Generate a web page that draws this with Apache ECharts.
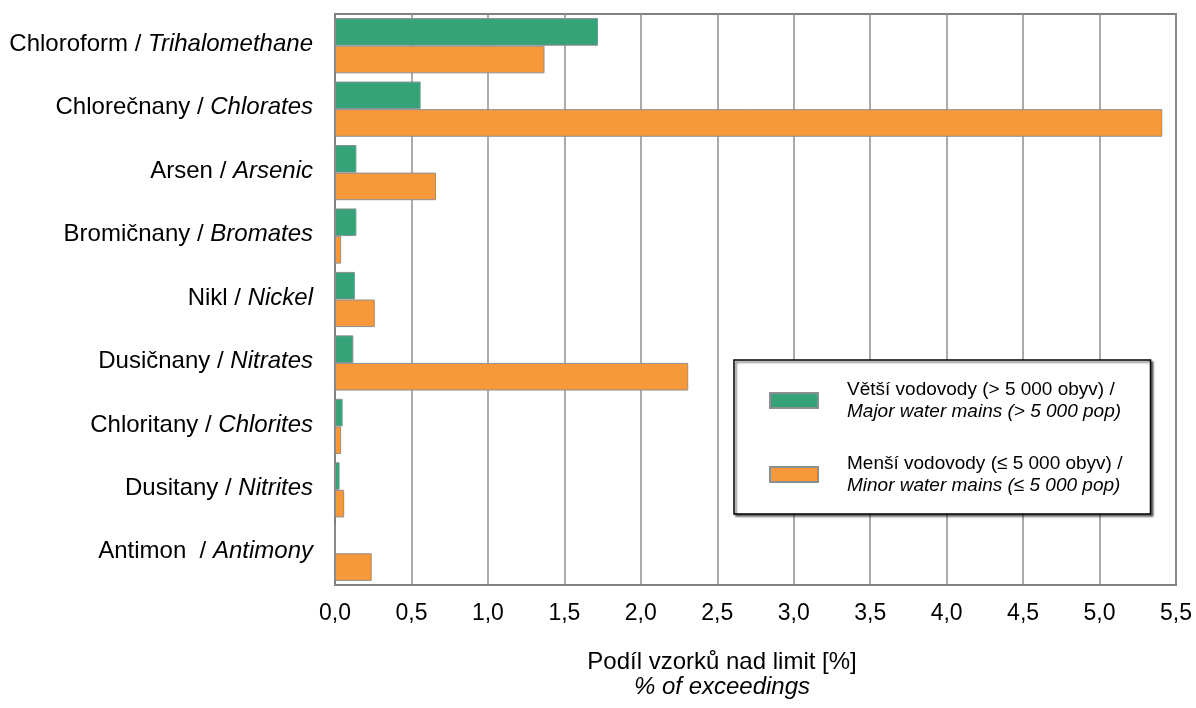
<!DOCTYPE html>
<html>
<head>
<meta charset="utf-8">
<script src="https://cdn.jsdelivr.net/npm/echarts@6/dist/echarts.min.js"></script>
<style>html,body{margin:0;padding:0;background:#fff}#c{width:1196px;height:708px}</style>
</head>
<body>
<div id="c"></div>
<script>
const namesCz = ['Chloroform', 'Chlorečnany', 'Arsen', 'Bromičnany', 'Nikl', 'Dusičnany', 'Chloritany', 'Dusitany', 'Antimon '];
const namesEn = ['Trihalomethane', 'Chlorates', 'Arsenic', 'Bromates', 'Nickel', 'Nitrates', 'Chlorites', 'Nitrites', 'Antimony'];
const majorValues = [1.72, 0.56, 0.14, 0.14, 0.13, 0.12, 0.05, 0.03, 0];
const minorValues = [1.37, 5.41, 0.66, 0.04, 0.26, 2.31, 0.04, 0.06, 0.24];
const seriesCz = ['Větší vodovody (> 5 000 obyv) /', 'Menší vodovody (≤ 5 000 obyv) /'];
const seriesEn = ['Major water mains (> 5 000 pop)', 'Minor water mains (≤ 5 000 pop)'];
const axisTitleCz = 'Podíl vzorků nad limit [%]';
const axisTitleEn = '% of exceedings';

const FONT = "'Liberation Sans', Arial, sans-serif";
const categories = namesCz.map((c, i) => c + ' / ' + namesEn[i]);
const chart = echarts.init(document.getElementById('c'), null, {renderer: 'canvas'});
const seriesNames = seriesCz.map((c, i) => c + '\n' + seriesEn[i]);

chart.setOption({
  animation: false,
  backgroundColor: '#fff',
  textStyle: {fontFamily: FONT},
  grid: {left: 335, right: 20, top: 14, bottom: 123, show: true, borderColor: '#7f8184', borderWidth: 2, containLabel: false},
  title: {
    text: '{a|' + axisTitleCz + '}\n{b|' + axisTitleEn + '}',
    left: 717, top: 645, textAlign: 'center',
    textStyle: {
      fontWeight: 'normal',
      rich: {
        a: {fontFamily: FONT, fontSize: 24, color: '#000', fontWeight: 'normal', lineHeight: 25, align: 'center'},
        b: {fontFamily: FONT, fontSize: 24, color: '#000', fontWeight: 'normal', fontStyle: 'italic', lineHeight: 25, align: 'center'}
      }
    }
  },
  legend: {
    orient: 'vertical',
    left: 734, top: 360,
    padding: [20, 28, 19, 35],
    itemWidth: 48, itemHeight: 15,
    itemGap: 33,
    icon: 'rect',
    backgroundColor: '#fff',
    borderColor: '#000', borderWidth: 1.5, borderRadius: 0,
    shadowColor: 'rgba(0,0,0,0.55)', shadowBlur: 2, shadowOffsetX: 2, shadowOffsetY: 2,
    selectedMode: false,
    data: seriesNames,
    formatter: function (name) {
      const i = seriesNames.indexOf(name);
      return '{a|' + seriesCz[i] + '}\n{b|' + seriesEn[i] + '}';
    },
    textStyle: {
      padding: [0, 0, 0, 24],
      rich: {
        a: {fontFamily: FONT, fontSize: 19, color: '#000', lineHeight: 22},
        b: {fontFamily: FONT, fontSize: 19, color: '#000', fontStyle: 'italic', lineHeight: 22}
      }
    }
  },
  xAxis: {
    type: 'value', min: 0, max: 5.5, interval: 0.5,
    axisLine: {show: true, lineStyle: {color: '#7f8184', width: 2}},
    axisTick: {show: false},
    splitLine: {show: true, lineStyle: {color: '#8c8f92', width: 1.5}},
    axisLabel: {
      margin: 17, fontFamily: FONT, fontSize: 23, color: '#000',
      formatter: v => v.toFixed(1).replace('.', ',')
    }
  },
  yAxis: {
    type: 'category', inverse: true, data: categories,
    axisLine: {show: true, lineStyle: {color: '#7f8184', width: 2}},
    axisTick: {show: false},
    splitLine: {show: false},
    axisLabel: {
      margin: 22,
      formatter: function (v, i) {
        return '{a|' + namesCz[i] + ' / }{b|' + namesEn[i] + '}';
      },
      rich: {
        a: {fontFamily: FONT, fontSize: 24, color: '#000', padding: [0, 0, 3, 0]},
        b: {fontFamily: FONT, fontSize: 24, color: '#000', fontStyle: 'italic', padding: [0, 0, 3, 0]}
      }
    }
  },
  series: [
    {
      name: seriesNames[0], type: 'bar', data: majorValues,
      barGap: '0%', barCategoryGap: '13%',
      itemStyle: {color: '#36a277', borderColor: '#8c8f92', borderWidth: 1}
    },
    {
      name: seriesNames[1], type: 'bar', data: minorValues,
      barGap: '0%', barCategoryGap: '13%',
      itemStyle: {color: '#f7983a', borderColor: '#8c8f92', borderWidth: 1}
    }
  ]
});
</script>
</body>
</html>
